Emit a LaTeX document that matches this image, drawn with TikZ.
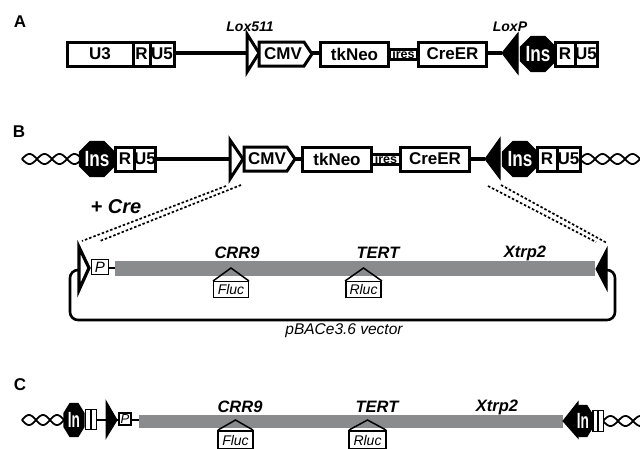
\documentclass[tikz,border=0pt]{standalone}
\usepackage{fontspec}
\usepackage{graphicx}
\setmainfont{Liberation Sans}
\usetikzlibrary{shapes.geometric}
\definecolor{bargray}{RGB}{138,139,141}
\begin{document}
\begin{tikzpicture}[x=1pt,y=-1pt,
  bx/.style={draw, line width=3pt, fill=white, inner sep=0pt, minimum height=24pt, font=\fontsize{17}{18}\selectfont\bfseries},
  iresbox/.style={draw, line width=2.4pt, fill=white, inner sep=0pt, minimum width=28pt, minimum height=10pt, font=\fontsize{12.5}{12}\selectfont\bfseries},
  oct/.style={regular polygon, regular polygon sides=8, fill=black, inner sep=0pt, minimum size=39pt, text=white, font=\fontsize{22}{22}\selectfont\bfseries},
  lbl/.style={font=\fontsize{14}{16}\selectfont\bfseries\itshape},
  gene/.style={font=\fontsize{16.5}{17}\selectfont\bfseries\itshape},
  panel/.style={font=\fontsize{17}{18}\selectfont\bfseries},
  rep/.style={draw, line width=1.5pt, fill=white, inner sep=0pt, minimum width=35pt, minimum height=16pt, font=\fontsize{14}{14}\selectfont\itshape},
  pbox/.style={draw, line width=1.5pt, fill=white, inner sep=0pt, minimum width=17pt, minimum height=15pt, font=\fontsize{15}{15}\selectfont\itshape},
  thinbox/.style={draw, line width=1.8pt, fill=white, inner sep=0pt, minimum width=5pt},
  bbA/.style={line width=4.5pt},
  bbB/.style={line width=4pt},
  lox/.style={draw, line width=3pt, fill=white, line join=miter},
  loxf/.style={fill=black, draw, line width=1pt, line join=miter},
  pent/.style={draw, line width=3pt, fill=white, line join=miter},
  dsh/.style={line width=1.7pt, dash pattern=on 2.5pt off 2pt},
  wavy/.style={line width=1.8pt},
  loopline/.style={line width=2.6pt, rounded corners=8pt},
  roof/.style={line width=1.5pt, line join=miter}
]
\useasboundingbox (0,0) rectangle (640,448);

% ================= Panel A =================
\node[panel] (labA) at (20,22) {A};
\node[lbl] (lox511) at (250,27) {Lox511};
\node[lbl] (loxP) at (510,27) {LoxP};

\coordinate (a1) at (174,53);
\coordinate (a2) at (502,53);
\draw[bbA] (a1) -- (a2);
\node[bx, minimum width=66pt] (U3a) at (100,54) {U3};
\node[bx, minimum width=17pt] (Ra) at (141.5,54) {R};
\node[bx, minimum width=24pt] (U5a) at (162,54) {U5};
\draw[lox] (247,34) -- (259,53) -- (247,72) -- cycle;
\draw[pent] (259,42) -- (304,42) -- (312,54) -- (304,66) -- (259,66) -- cycle;
\node[font=\fontsize{17}{18}\selectfont\bfseries] (cmva) at (283,54) {CMV};
\node[bx, minimum width=68pt] (tka) at (354.5,54) {tkNeo};
\node[iresbox] (iresa) at (403.5,54.5) {ires};
\node[bx, minimum width=68pt] (crea) at (452.5,54) {CreER};
\draw[loxf] (502,53) -- (518,33) -- (518,74) -- cycle;
\node[oct] (insa) at (538,54) {\scalebox{0.78}[1]{Ins}};
\node[bx, minimum width=20pt] (R2a) at (565,54) {R};
\node[bx, minimum width=22pt] (U52a) at (586,54) {U5};

% ================= Panel B =================
\node[panel] (labB) at (19,132) {B};
\draw[wavy] plot[domain=22:82, samples=120] (\x, {159+5*sin(180*(\x-22)/15)});
\draw[wavy] plot[domain=22:82, samples=120] (\x, {159-5*sin(180*(\x-22)/15)});
\draw[wavy] plot[domain=580:640, samples=120] (\x, {159+5*sin(180*(\x-580)/15)});
\draw[wavy] plot[domain=580:640, samples=120] (\x, {159-5*sin(180*(\x-580)/15)});
\draw[bbB] (155,159) -- (485,159);
\node[oct] (insb1) at (97,159) {\scalebox{0.78}[1]{Ins}};
\node[bx, minimum width=20pt] (Rb) at (125,159) {R};
\node[bx, minimum width=20pt] (U5b) at (145,159) {U5};
\draw[lox] (230,140) -- (243,159) -- (230,179) -- cycle;
\draw[pent] (244,147) -- (287,147) -- (295,159) -- (287,171) -- (244,171) -- cycle;
\node[font=\fontsize{17}{18}\selectfont\bfseries] (cmvb) at (267,159) {CMV};
\node[bx, minimum width=69pt] (tkb) at (337,159) {tkNeo};
\node[iresbox] (iresb) at (386,159.5) {ires};
\node[bx, minimum width=69pt] (creb) at (435,159) {CreER};
\draw[loxf] (485,159) -- (500,138) -- (500,179) -- cycle;
\node[oct] (insb2) at (520,159) {\scalebox{0.78}[1]{Ins}};
\node[bx, minimum width=20pt] (R2b) at (547,159) {R};
\node[bx, minimum width=23pt] (U52b) at (568.5,159) {U5};

% dashed expansion lines
\draw[dsh] (226,186) -- (82,241);
\draw[dsh] (241,185) -- (100,241);
\draw[dsh] (488,186) -- (596,242);
\draw[dsh] (501,185) -- (607,243);
\node[font=\fontsize{20}{20}\selectfont\bfseries\itshape] (cre) at (116,207) {+ Cre};

% ================= pBAC =================
\draw[loopline] (80,270) -- (70,270) -- (70,320) -- (615,320) -- (615,270) -- (604,270);
\draw[line width=1.8pt] (109,268) -- (115,268);
\fill[bargray] (115,261) rectangle (595,276);
\draw[lox, line width=3.2pt] (79,247) -- (89,268) -- (79,290) -- cycle;
\node[pbox] (P1) at (100,267) {P};
\draw[loxf] (596,269) -- (607,248) -- (607,290) -- cycle;
\node[gene] (crr1) at (237,253) {CRR9};
\node[gene] (tert1) at (378,253) {TERT};
\node[gene] (xt1) at (525,253) {Xtrp2};
\draw[roof] (213,281) -- (231,268) -- (249,281);
\node[rep] (fluc1) at (231,289.5) {Fluc};
\draw[roof] (345,281) -- (363.5,268) -- (382,281);
\node[rep] (rluc1) at (363.5,289.5) {Rluc};
\node[font=\fontsize{15.5}{16}\selectfont\itshape] (vec) at (344,331) {pBACe3.6 vector};

% ================= Panel C =================
\node[panel] (labC) at (20,385) {C};
\draw[wavy] plot[domain=22:64, samples=100] (\x, {420+5*sin(180*(\x-22)/14)});
\draw[wavy] plot[domain=22:64, samples=100] (\x, {420-5*sin(180*(\x-22)/14)});
\draw[wavy] plot[domain=603:640, samples=100] (\x, {421+5*sin(180*(\x-603)/15)});
\draw[wavy] plot[domain=603:640, samples=100] (\x, {421-5*sin(180*(\x-603)/15)});
\draw[line width=2.4pt] (96,420) -- (139,420);
\fill[bargray] (139,415) rectangle (563,428);
\node[oct, minimum size=37pt, xscale=0.62] (inc1) at (74,420) {In};
\node[thinbox, minimum height=20pt] (tc1) at (88,419.5) {};
\node[thinbox, minimum height=20pt] (tc2) at (94,419.5) {};
\draw[loxf] (106,401) -- (117,420) -- (106,438) -- cycle;
\node[pbox, minimum width=12pt, minimum height=12pt, font=\fontsize{13}{13}\selectfont\itshape] (P2) at (125,419) {P};
\node[gene] (crr2) at (240,407) {CRR9};
\node[gene] (tert2) at (377,407) {TERT};
\node[gene] (xt2) at (497,407) {Xtrp2};
\draw[roof] (218,430) -- (235.5,420) -- (253,430);
\node[rep, minimum width=35pt, minimum height=18pt] (fluc2) at (235.5,440) {Fluc};
\draw[roof] (349,430) -- (367.5,420) -- (386,430);
\node[rep, minimum width=37pt, minimum height=18pt] (rluc2) at (367.5,440) {Rluc};
\draw[loxf] (563,421) -- (578,402) -- (578,438) -- cycle;
\node[oct, minimum size=35pt, xscale=0.62] (inc2) at (583,421) {In};
\node[thinbox, minimum height=21pt] (tc3) at (595.5,421) {};
\node[thinbox, minimum height=21pt] (tc4) at (601,421) {};
\end{tikzpicture}
\end{document}
